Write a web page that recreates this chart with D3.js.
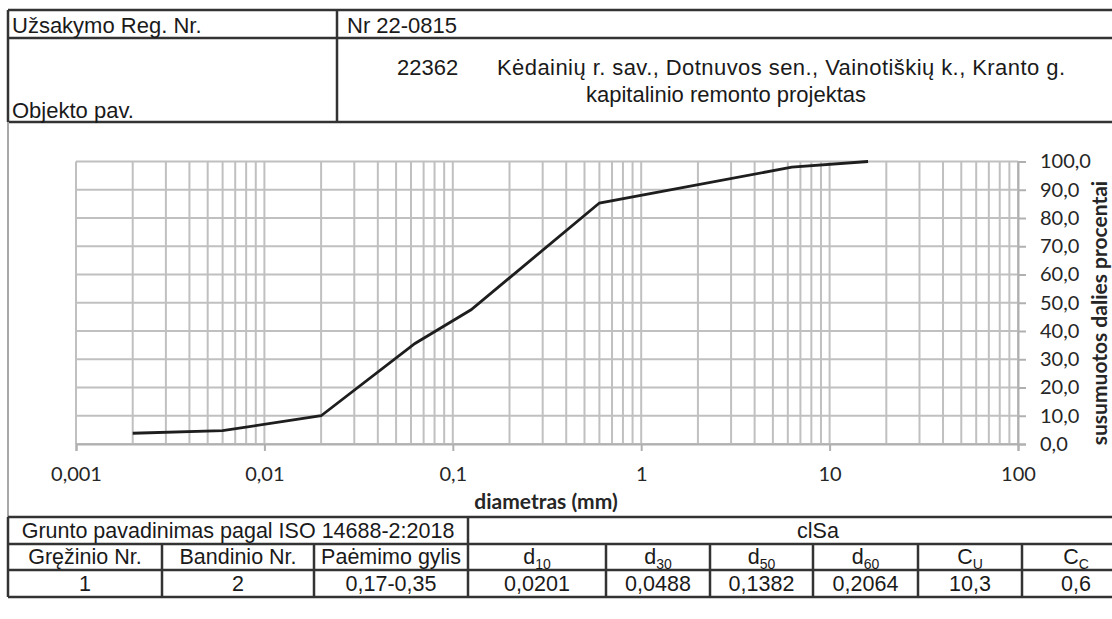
<!DOCTYPE html>
<html lang="lt">
<head>
<meta charset="UTF-8">
<style>
  body { margin: 0; background: #fff; }
  svg { display: block; }
  .cell { font-family: "Liberation Sans", Arial, sans-serif; fill: #1a1a1a; }
  .grid line { stroke: #c0c0c0; stroke-width: 2; }
  .axis path { stroke: #b0b0b0; stroke-width: 2; }
  .axis line { stroke: #b0b0b0; stroke-width: 2; }
  .axis text { font-family: Lato, "Open Sans", sans-serif; font-size: 20px; fill: #262626; }
  .title { font-family: Lato, "Open Sans", sans-serif; font-weight: bold; font-size: 21px; fill: #262626; }
  .frame { stroke: #333; stroke-width: 2.5; fill: none; }
</style>
</head>
<body>
<script src="https://cdn.jsdelivr.net/npm/d3@7"></script>
<script>
// curve data (diameter mm, cumulative %)
var diameters = [0.002, 0.006, 0.02, 0.063, 0.125, 0.6, 6.3, 16];
var passing = [3.8, 4.7, 10, 35.6, 47.5, 85.3, 98, 100];

var xTicks = [0.001, 0.01, 0.1, 1, 10, 100];
var xTickLabels = ["0,001", "0,01", "0,1", "1", "10", "100"];
var yTicks = [0, 10, 20, 30, 40, 50, 60, 70, 80, 90, 100];
var yTickLabels = ["0,0", "10,0", "20,0", "30,0", "40,0", "50,0", "60,0", "70,0", "80,0", "90,0", "100,0"];

// header table
var orderLabel = "Užsakymo Reg. Nr.";
var orderNr = "Nr 22-0815";
var objectLabel = "Objekto pav.";
var objectCode = "22362";
var objectLine1 = "Kėdainių r. sav., Dotnuvos sen., Vainotiškių k., Kranto g.";
var objectLine2 = "kapitalinio remonto projektas";

// result table
var soilLabel = "Grunto pavadinimas pagal ISO 14688-2:2018";
var soilName = "clSa";
var colHeads = [["Gręžinio Nr.", ""], ["Bandinio Nr.", ""], ["Paėmimo gylis", ""],
  ["d", "10"], ["d", "30"], ["d", "50"], ["d", "60"], ["C", "U"], ["C", "C"]];
var rowValues = ["1", "2", "0,17-0,35", "0,0201", "0,0488", "0,1382", "0,2064", "10,3", "0,6"];

var W = 1112, H = 619;
var svg = d3.select("body").append("svg").attr("width", W).attr("height", H);

// ---------- header table ----------
var head = svg.append("g");
head.append("path").attr("class", "frame")
  .attr("d", "M8,10H1120 M8,38H1120 M8,122H1120 M8,10V122 M337,10V122");
head.append("text").attr("class", "cell").attr("font-size", 22).attr("x", 12).attr("y", 33).text(orderLabel);
head.append("text").attr("class", "cell").attr("font-size", 22).attr("x", 347).attr("y", 33).text(orderNr);
head.append("text").attr("class", "cell").attr("font-size", 22).attr("x", 12).attr("y", 118).text(objectLabel);
head.append("text").attr("class", "cell").attr("font-size", 22).attr("x", 397).attr("y", 75).text(objectCode);
head.append("text").attr("class", "cell").attr("font-size", 22).attr("x", 497).attr("y", 75)
  .attr("textLength", 568).attr("lengthAdjust", "spacing").text(objectLine1);
head.append("text").attr("class", "cell").attr("font-size", 22).attr("x", 726).attr("y", 102)
  .attr("text-anchor", "middle").text(objectLine2);

// chart region border
svg.append("line").attr("x1", 8).attr("x2", 8).attr("y1", 122).attr("y2", 517)
  .attr("stroke", "#a8a8a8").attr("stroke-width", 2);

// ---------- chart ----------
var x = d3.scaleLog().domain([0.001, 100]).range([76, 1018]);
var y = d3.scaleLinear().domain([0, 100]).range([444, 161.5]);

var grid = svg.append("g").attr("class", "grid");
grid.selectAll(".v").data(x.ticks()).enter().append("line")
  .attr("x1", function (d) { return x(d); })
  .attr("x2", function (d) { return x(d); })
  .attr("y1", y(100)).attr("y2", y(0));
grid.selectAll(".h").data(yTicks).enter().append("line")
  .attr("x1", x(0.001)).attr("x2", x(100))
  .attr("y1", function (d) { return y(d); })
  .attr("y2", function (d) { return y(d); });

var xAxis = d3.axisBottom(x)
  .tickValues(xTicks)
  .tickSize(7)
  .tickPadding(16)
  .tickFormat(function (d, i) { return xTickLabels[i]; });
svg.append("g").attr("class", "axis")
  .attr("transform", "translate(0," + y(0) + ")")
  .call(xAxis);

var yAxis = d3.axisRight(y)
  .tickValues(yTicks)
  .tickSize(8)
  .tickPadding(14)
  .tickFormat(function (d, i) { return yTickLabels[i]; });
svg.append("g").attr("class", "axis")
  .attr("transform", "translate(" + x(100) + ",0)")
  .call(yAxis);

svg.append("text").attr("class", "title")
  .attr("x", 546).attr("y", 509).attr("text-anchor", "middle")
  .text("diametras (mm)");
svg.append("text").attr("class", "title")
  .attr("transform", "translate(1107,313) rotate(-90)")
  .attr("text-anchor", "middle")
  .text("susumuotos dalies procentai");

var line = d3.line()
  .x(function (d) { return x(d[0]); })
  .y(function (d) { return y(d[1]); });
svg.append("path")
  .attr("d", line(d3.zip(diameters, passing)))
  .attr("fill", "none").attr("stroke", "#1e1e1e").attr("stroke-width", 2.8);

// ---------- result table ----------
var colEdges = [8, 162, 314, 468, 606, 710, 813, 918, 1022, 1130];
var rowEdges = [517, 544, 570, 597];
var tbl = svg.append("g");
tbl.append("path").attr("class", "frame").attr("stroke", "#222").attr("stroke-width", 3)
  .attr("d", "M8," + rowEdges[0] + "H1120");
tbl.append("path").attr("class", "frame").attr("stroke", "#222")
  .attr("d", rowEdges.slice(1).map(function (r) { return "M8," + r + "H1120"; }).join(" ")
    + " M8," + rowEdges[0] + "V" + rowEdges[3]
    + " M468," + rowEdges[0] + "V" + rowEdges[3]
    + colEdges.slice(1, 9).map(function (c) { return " M" + c + "," + rowEdges[1] + "V" + rowEdges[3]; }).join(""));

tbl.append("text").attr("class", "cell").attr("font-size", 21.5)
  .attr("x", 238).attr("y", 538).attr("text-anchor", "middle").text(soilLabel);
tbl.append("text").attr("class", "cell").attr("font-size", 21.5)
  .attr("x", 818).attr("y", 538).attr("text-anchor", "middle").text(soilName);

colHeads.forEach(function (h, i) {
  var cx = (colEdges[i] + colEdges[i + 1]) / 2;
  var t = tbl.append("text").attr("class", "cell").attr("font-size", 21.5)
    .attr("x", cx).attr("y", 564).attr("text-anchor", "middle");
  t.append("tspan").text(h[0]);
  if (h[1]) t.append("tspan").attr("font-size", 14).attr("dy", 5).text(h[1]);
});
rowValues.forEach(function (v, i) {
  var cx = (colEdges[i] + colEdges[i + 1]) / 2;
  tbl.append("text").attr("class", "cell").attr("font-size", 21.5)
    .attr("x", cx).attr("y", 591).attr("text-anchor", "middle").text(v);
});
</script>
</body>
</html>
